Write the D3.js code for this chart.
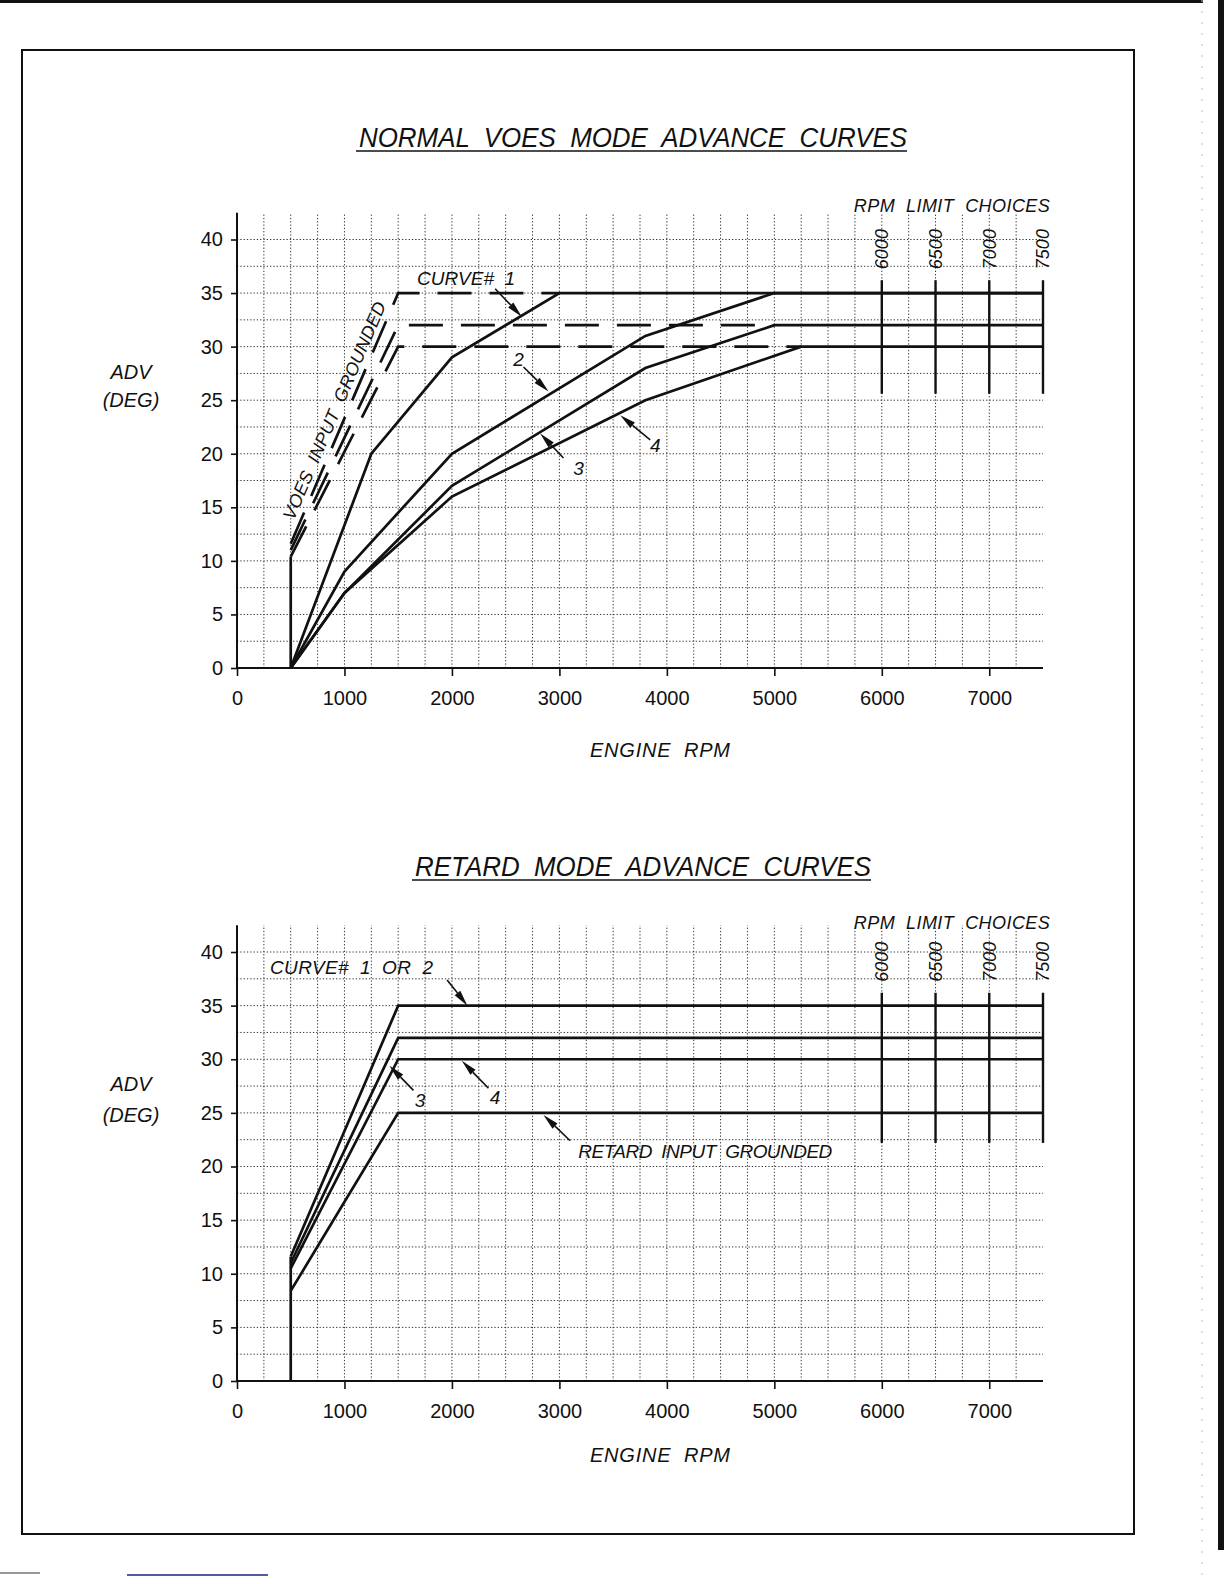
<!DOCTYPE html>
<html>
<head>
<meta charset="utf-8">
<script src="https://cdn.jsdelivr.net/npm/d3@7"></script>
<style>
body { margin: 0; background: #fff; }
svg { display: block; }
.cad { font-family: "Liberation Sans", Arial, sans-serif; font-style: italic; fill: #111; white-space: pre; }
.num { font-family: "Liberation Sans", Arial, sans-serif; fill: #111; font-size: 20px; }
</style>
</head>
<body>
<svg id="page" width="1224" height="1584"></svg>
<script>
// axis values
var rpmTicks = [0, 1000, 2000, 3000, 4000, 5000, 6000, 7000];
var degTicks = [0, 5, 10, 15, 20, 25, 30, 35, 40];
var limitChoices = [6000, 6500, 7000, 7500];

// normal VOES mode curves [rpm, deg]
var curve1 = [[500, 0], [1250, 20], [2000, 29], [3000, 35], [7500, 35]];
var curve2 = [[500, 0], [1000, 9], [2000, 20], [3800, 31], [5000, 35], [7500, 35]];
var curve3 = [[500, 0], [1000, 7], [2000, 17], [3800, 28], [5000, 32], [7500, 32]];
var curve4 = [[500, 0], [1000, 7], [2000, 16], [3800, 25], [5250, 30], [7500, 30]];
var normalStem = [[500, 0], [500, 10.4]];

// VOES input grounded (dashed)
var voes35 = [[500, 11.6], [1500, 35], [3000, 35]];
var voes32 = [[500, 11], [1500, 32], [5000, 32]];
var voes30 = [[500, 10.4], [1500, 30], [5250, 30]];

// retard mode curves
var retard35 = [[500, 11.6], [1500, 35], [7500, 35]];
var retard32 = [[500, 11], [1500, 32], [7500, 32]];
var retard30 = [[500, 10.5], [1500, 30], [7500, 30]];
var retard25 = [[500, 8.4], [1500, 25], [7500, 25]];
var retardStem = [[500, 0], [500, 11.6]];

// rpm limit bars [low deg, high deg]
var normalLimit = [25.6, 36.2];
var retardLimit = [22.2, 36.2];

// callouts: label point, arrow from, arrow to  (rpm, deg)
var normalNotes = [
    { text: 'CURVE#  1', at: [2132, 36.4], w: 98, from: [2402, 35.4], to: [2650, 32.8] },
    { text: '2', at: [2619, 28.8], from: [2666, 28.1], to: [2899, 25.8] },
    { text: '3', at: [3178, 18.6], from: [3038, 19.6], to: [2821, 21.9] },
    { text: '4', at: [3892, 20.8], from: [3845, 21.3], to: [3566, 23.6] }
];
var retardNotes = [
    { text: 'CURVE#  1  OR  2', at: [1066, 38.55], w: 163, from: [1955, 37.4], to: [2144, 35] },
    { text: '3', at: [1704, 26.2], from: [1642, 27.1], to: [1418, 29.4] },
    { text: '4', at: [2402, 26.4], from: [2340, 27.3], to: [2092, 29.85] },
    { text: 'RETARD  INPUT  GROUNDED', at: [4358, 21.4], w: 254, from: [3100, 22.4], to: [2852, 24.8] }
];

var svg = d3.select('#page');

var draw = {

    page : function() {
        svg.append('rect').attr('width', 1224).attr('height', 1584).attr('fill', '#fff');
        svg.append('rect').attr('x', 0).attr('y', 0).attr('width', 1203).attr('height', 3).attr('fill', '#111');
        svg.append('rect').attr('x', 1218).attr('y', 0).attr('width', 6).attr('height', 1550).attr('fill', '#111');
        svg.append('line').attr('x1', 1202).attr('x2', 1202).attr('y1', 0).attr('y2', 1584)
            .attr('stroke', '#bbb').attr('stroke-dasharray', '2,9');
        svg.append('rect').attr('x', 22).attr('y', 50).attr('width', 1112).attr('height', 1484)
            .attr('fill', 'none').attr('stroke', '#111').attr('stroke-width', 2);
        svg.append('line').attr('x1', 127).attr('x2', 268).attr('y1', 1575).attr('y2', 1575)
            .attr('stroke', '#1a237e').attr('stroke-width', 1.5);
        svg.append('line').attr('x1', 0).attr('x2', 40).attr('y1', 1573).attr('y2', 1573)
            .attr('stroke', '#777').attr('stroke-width', 1.5);
    },

    chart : function(cfg) {

        var x = d3.scaleLinear().domain([0, 7500]).range([237, 1043]);
        var y = d3.scaleLinear().domain([0, 40]).range([cfg.y0, cfg.y40]);
        var g = svg.append('g');
        var line = d3.line().x(function(d) { return x(d[0]); }).y(function(d) { return y(d[1]); });

        // title
        g.append('text').attr('class', 'cad').attr('x', cfg.titleX[0]).attr('y', cfg.titleY)
            .attr('font-size', 27).attr('textLength', cfg.titleX[1] - cfg.titleX[0])
            .attr('lengthAdjust', 'spacingAndGlyphs').text(cfg.title);
        g.append('line').attr('x1', cfg.titleX[0] - 3).attr('x2', cfg.titleX[1])
            .attr('y1', cfg.titleY + 4.5).attr('y2', cfg.titleY + 4.5)
            .attr('stroke', '#111').attr('stroke-width', 1.6);

        // dotted grid
        g.append('g').selectAll('line').data(d3.range(250, 7500, 250)).join('line')
            .attr('x1', function(d) { return x(d); }).attr('x2', function(d) { return x(d); })
            .attr('y1', y(0)).attr('y2', y(42.5))
            .attr('stroke', '#333').attr('stroke-width', 1).attr('stroke-dasharray', '1.3,2');
        g.append('g').selectAll('line').data(d3.range(2.5, 40.01, 2.5)).join('line')
            .attr('x1', x(0)).attr('x2', x(7500))
            .attr('y1', function(d) { return y(d); }).attr('y2', function(d) { return y(d); })
            .attr('stroke', '#333').attr('stroke-width', 1).attr('stroke-dasharray', '1.3,2');

        // axes
        var ya = g.append('g').attr('transform', 'translate(' + x(0) + ',0)')
            .call(d3.axisLeft(y).tickValues(degTicks).tickFormat(d3.format('d'))
                .tickSize(6).tickPadding(8).tickSizeOuter(0));
        var xa = g.append('g').attr('transform', 'translate(0,' + y(0) + ')')
            .call(d3.axisBottom(x).tickValues(rpmTicks).tickFormat(d3.format('d'))
                .tickSize(8).tickPadding(15).tickSizeOuter(0));
        [ya, xa].forEach(function(a) {
            a.attr('font-size', null).attr('font-family', null);
            a.select('.domain').remove();
            a.selectAll('.tick line').attr('stroke', '#111').attr('stroke-width', 1.6);
            a.selectAll('.tick text').attr('class', 'num');
        });
        g.append('line').attr('x1', x(0)).attr('x2', x(0)).attr('y1', y(0)).attr('y2', y(42.5))
            .attr('stroke', '#111').attr('stroke-width', 2);
        g.append('line').attr('x1', x(0)).attr('x2', x(7500)).attr('y1', y(0)).attr('y2', y(0))
            .attr('stroke', '#111').attr('stroke-width', 2);

        // axis titles
        g.append('text').attr('class', 'cad').attr('x', 131).attr('y', cfg.advY[0] + 7)
            .attr('font-size', 20).attr('text-anchor', 'middle').text('ADV');
        g.append('text').attr('class', 'cad').attr('x', 131).attr('y', cfg.advY[1] + 7)
            .attr('font-size', 20).attr('text-anchor', 'middle').text('(DEG)');
        g.append('text').attr('class', 'cad').attr('x', 590).attr('y', cfg.engineY + 7)
            .attr('font-size', 20).attr('textLength', 140).attr('lengthAdjust', 'spacing')
            .text('ENGINE  RPM');

        // rpm limit choices
        g.append('text').attr('class', 'cad').attr('x', x(6000) - 28).attr('y', y(40) + cfg.limitDy)
            .attr('font-size', 18).attr('textLength', 196).attr('lengthAdjust', 'spacing')
            .text('RPM  LIMIT  CHOICES');
        limitChoices.forEach(function(v) {
            g.append('text').attr('class', 'cad').attr('font-size', 18).attr('text-anchor', 'middle')
                .attr('transform', 'translate(' + x(v) + ',' + y(39.1) + ') rotate(-90)')
                .attr('dy', '0.36em').text(v);
            g.append('line').attr('x1', x(v)).attr('x2', x(v))
                .attr('y1', y(cfg.limit[0])).attr('y2', y(cfg.limit[1]))
                .attr('stroke', '#111').attr('stroke-width', 2.4);
        });

        // curves
        cfg.solid.forEach(function(s) {
            g.append('path').attr('d', line(s)).attr('fill', 'none')
                .attr('stroke', '#111').attr('stroke-width', 2.7).attr('stroke-linejoin', 'miter');
        });
        cfg.dashed.forEach(function(s) {
            g.append('path').attr('d', line(s)).attr('fill', 'none')
                .attr('stroke', '#111').attr('stroke-width', 2.7).attr('stroke-dasharray', '34,18');
        });

        // callouts
        cfg.notes.forEach(function(n) {
            var tx = g.append('text').attr('class', 'cad').attr('font-size', 19)
                .attr('x', x(n.at[0])).attr('y', y(n.at[1]) + 6.5).attr('text-anchor', 'middle')
                .text(n.text);
            if (n.w) tx.attr('x', x(n.at[0]) - n.w / 2).attr('text-anchor', 'start')
                .attr('textLength', n.w).attr('lengthAdjust', 'spacing');
            draw.arrow(g, x(n.from[0]), y(n.from[1]), x(n.to[0]), y(n.to[1]));
        });

        if (cfg.voesText) {
            var a = Math.atan2(y(35) - y(11.6), x(1500) - x(500)) * 180 / Math.PI;
            g.append('text').attr('class', 'cad').attr('font-size', 18).attr('text-anchor', 'middle')
                .attr('transform', 'translate(' + x(960) + ',' + y(23.8) + ') rotate(' + a + ')')
                .attr('textLength', 235).attr('lengthAdjust', 'spacing')
                .text('VOES  INPUT  GROUNDED');
        }
    },

    arrow : function(g, x1, y1, x2, y2) {
        var ang = Math.atan2(y2 - y1, x2 - x1), L = 16, W = 3.6;
        var bx = x2 - L * Math.cos(ang), by = y2 - L * Math.sin(ang);
        g.append('line').attr('x1', x1).attr('y1', y1).attr('x2', bx).attr('y2', by)
            .attr('stroke', '#111').attr('stroke-width', 1.6);
        g.append('path').attr('fill', '#111')
            .attr('d', 'M' + x2 + ',' + y2 +
                'L' + (bx - W * Math.sin(ang)) + ',' + (by + W * Math.cos(ang)) +
                'L' + (bx + W * Math.sin(ang)) + ',' + (by - W * Math.cos(ang)) + 'Z');
    }
};

draw.page();

draw.chart({
    y0: 668, y40: 239.5,
    title: 'NORMAL  VOES  MODE  ADVANCE  CURVES', titleX: [359, 907], titleY: 146.5,
    advY: [372, 400], engineY: 750, limitDy: -28, limit: normalLimit,
    solid: [curve1, curve2, curve3, curve4, normalStem],
    dashed: [voes35, voes32, voes30],
    notes: normalNotes, voesText: true
});

draw.chart({
    y0: 1381, y40: 952,
    title: 'RETARD  MODE  ADVANCE  CURVES', titleX: [415, 871], titleY: 875.5,
    advY: [1084, 1115], engineY: 1455, limitDy: -23, limit: retardLimit,
    solid: [retard35, retard32, retard30, retard25, retardStem],
    dashed: [],
    notes: retardNotes, voesText: false
});
</script>
</body>
</html>
